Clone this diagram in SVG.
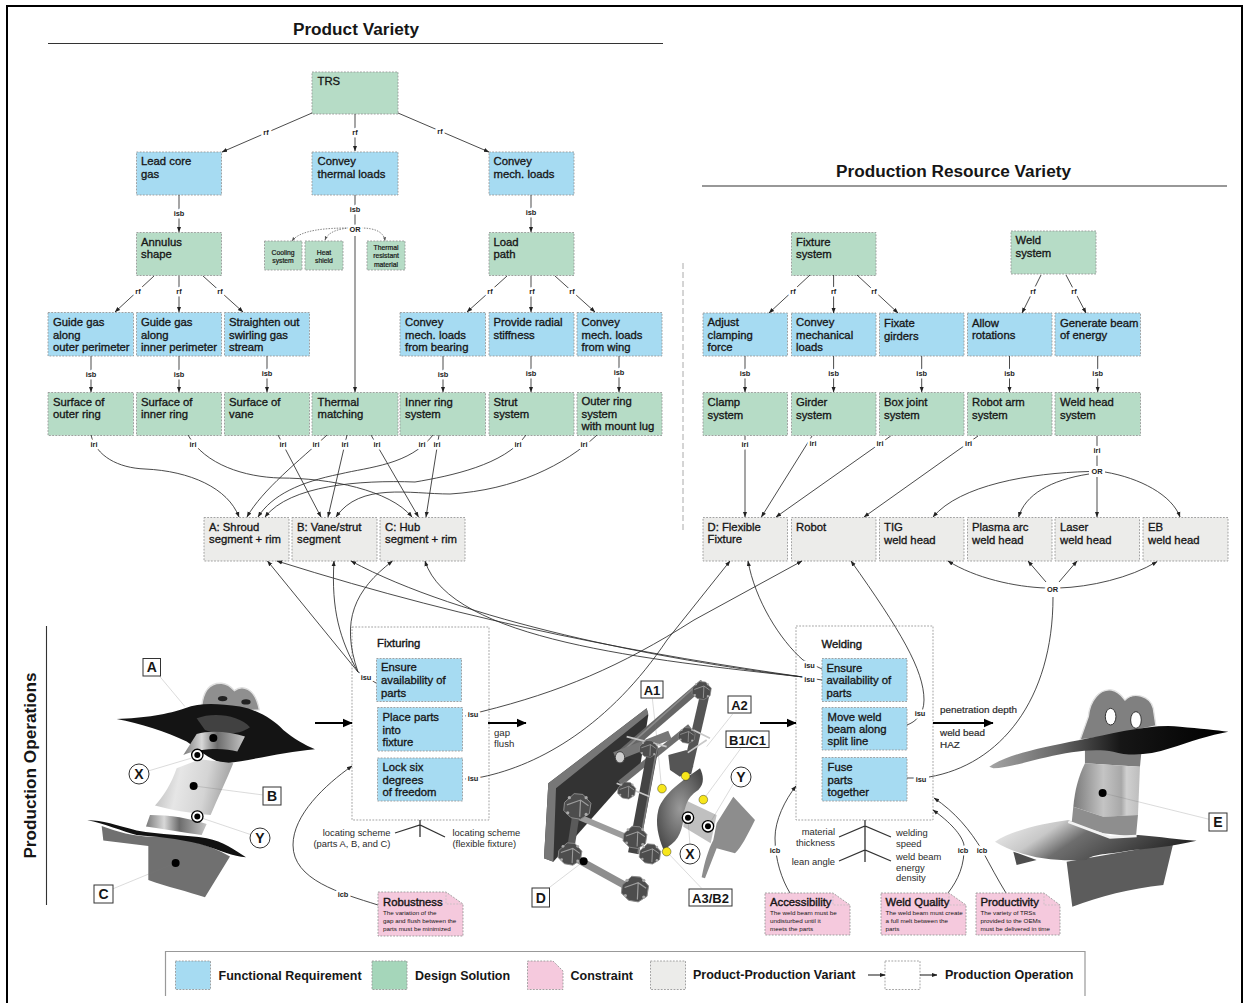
<svg xmlns="http://www.w3.org/2000/svg" width="1243" height="1003" viewBox="0 0 1243 1003">
<defs>
<marker id="ah" viewBox="0 0 8 8" refX="7.5" refY="4" markerWidth="5.5" markerHeight="5.5" markerUnits="userSpaceOnUse" orient="auto"><path d="M0 1 L8 4 L0 7 Z" fill="#222"/></marker>
<marker id="ahb" viewBox="0 0 8 8" refX="7.5" refY="4" markerWidth="10" markerHeight="10" markerUnits="userSpaceOnUse" orient="auto"><path d="M0 0.5 L8 4 L0 7.5 Z" fill="#000"/></marker>
<marker id="ahd" viewBox="0 0 8 8" refX="7.5" refY="4" markerWidth="4" markerHeight="4" markerUnits="userSpaceOnUse" orient="auto"><path d="M0 1 L8 4 L0 7 Z" fill="#555"/></marker>
<linearGradient id="gv" x1="0" y1="0" x2="1" y2="0.15"><stop offset="0" stop-color="#b5b5b5"/><stop offset=".35" stop-color="#e6e6e6"/><stop offset=".7" stop-color="#d4d4d4"/><stop offset="1" stop-color="#a2a2a2"/></linearGradient>
<linearGradient id="gs2" x1="0" y1="0" x2="1" y2="0"><stop offset="0" stop-color="#7a7a7a"/><stop offset=".3" stop-color="#d8d8d8"/><stop offset=".55" stop-color="#6c6c6c"/><stop offset="1" stop-color="#c6c6c6"/></linearGradient>
<linearGradient id="gw" x1="0" y1="0" x2="1" y2="0"><stop offset="0" stop-color="#7a7a7a"/><stop offset=".45" stop-color="#c4c4c4"/><stop offset=".72" stop-color="#a8a8a8"/><stop offset=".8" stop-color="#d0d0d0"/><stop offset="1" stop-color="#bdbdbd"/></linearGradient>
<linearGradient id="gh" x1="0" y1="0" x2="1" y2="0.3"><stop offset="0" stop-color="#f4f4f4"/><stop offset=".32" stop-color="#c8c8c8"/><stop offset=".5" stop-color="#6e6e6e"/><stop offset="1" stop-color="#2a2a2a"/></linearGradient>
<linearGradient id="gs" x1="0" y1="0" x2="1" y2="0"><stop offset="0" stop-color="#a5a5a5"/><stop offset=".28" stop-color="#6a6a6a"/><stop offset=".55" stop-color="#161616"/><stop offset="1" stop-color="#000"/></linearGradient>
<radialGradient id="ga" cx=".5" cy=".5" r=".6"><stop offset="0" stop-color="#9a9a9a"/><stop offset="1" stop-color="#4a4a4a"/></radialGradient>
<g id="knot"><path d="M-32 -8L-8 -30L14 -28L34 -6L30 20L8 34L-16 30L-34 12Z" fill="#4d4d4d" stroke="#8c8c8c" stroke-width="2.5"/><path d="M-26 -2L8 -14L28 0M8 -14L6 28" fill="none" stroke="#9d9d9d" stroke-width="3"/><circle cx="-20" cy="-20" r="4" fill="#aaa"/><circle cx="22" cy="-20" r="4" fill="#aaa"/><circle cx="-24" cy="18" r="4" fill="#aaa"/><circle cx="22" cy="22" r="4" fill="#aaa"/></g>
</defs>
<style>
text{font-family:"Liberation Sans",Arial,sans-serif;fill:#161616}
.b{stroke:#999;stroke-width:.9;stroke-dasharray:1.8 1.4}
.fr{fill:#a6dbf2}.ds{fill:#b6dcc6}.pv{fill:#ececea}.co{fill:#f5c9dd}.op{fill:#fff}
.t{font-size:11.3px;stroke:#161616;stroke-width:.32}
.s{font-size:6.8px;text-anchor:middle;stroke:#161616;stroke-width:.2}
.nt{font-size:11.3px;stroke:#161616;stroke-width:.4}
.nb{font-size:6.25px}
.l{font-size:7.4px;text-anchor:middle;font-weight:bold;fill:#222;paint-order:stroke;stroke:#fff;stroke-width:5px;stroke-linejoin:round}
.f{font-size:9.4px;fill:#2a2a2a}
.h1{font-size:17.2px;font-weight:bold}
.hd{font-size:11.3px;stroke:#161616;stroke-width:.4}
.lg{font-size:12.5px;font-weight:bold}
.c{fill:none;stroke:#2a2a2a;stroke-width:.85}
.ca{fill:none;stroke:#2a2a2a;stroke-width:.85;marker-end:url(#ah)}
.cd{fill:none;stroke:#666;stroke-width:.8;stroke-dasharray:1.5 1.2;marker-end:url(#ahd)}
.th{fill:none;stroke:#000;stroke-width:2;marker-end:url(#ahb)}
.fish{fill:none;stroke:#333;stroke-width:1.3}
.lead{fill:none;stroke:#777;stroke-width:.8}
.tag{fill:#fff;stroke:#333;stroke-width:1}
.tt{font-size:14px;font-weight:bold;text-anchor:middle}
.dot{fill:#000}
.y{fill:#f7e61c;stroke:#111;stroke-width:1.2}
</style>
<rect width="1243" height="1003" fill="#fff"/>
<path d="M7 1003 V6 H1242 V1003" fill="none" stroke="#000" stroke-width="2"/>

<g id="titles">
<text class="h1" x="356" y="35" text-anchor="middle">Product Variety</text>
<path d="M48 43.5H663M702 186H1227M46.5 626V905" stroke="#333" stroke-width="1.1" fill="none"/>
<text class="h1" x="953.5" y="177" text-anchor="middle">Production Resource Variety</text>
<text class="h1" transform="translate(36 765.5) rotate(-90)" text-anchor="middle">Production Operations</text>
<path d="M683 263V532" stroke="#aaa" stroke-width="1" stroke-dasharray="6 3" fill="none"/>
</g>

<g id="n-trs"><rect class="ds b" x="312" y="72" width="86" height="42"/><text class="t" x="317.5" y="85">TRS</text></g>
<g id="n-lead"><rect class="fr b" x="136.5" y="152" width="85" height="43"/><text class="t" x="141" y="165">Lead core</text><text class="t" x="141" y="177.5">gas</text></g>
<g id="n-thermal"><rect class="fr b" x="312" y="152" width="86" height="43"/><text class="t" x="317.5" y="165">Convey</text><text class="t" x="317.5" y="177.5">thermal loads</text></g>
<g id="n-mech"><rect class="fr b" x="489" y="152" width="85" height="43"/><text class="t" x="493.5" y="165">Convey</text><text class="t" x="493.5" y="177.5">mech. loads</text></g>
<g id="n-annulus"><rect class="ds b" x="136.5" y="232.5" width="85" height="43"/><text class="t" x="141" y="245.5">Annulus</text><text class="t" x="141" y="258">shape</text></g>
<g id="n-load"><rect class="ds b" x="489" y="232.5" width="85" height="43"/><text class="t" x="493.5" y="245.5">Load</text><text class="t" x="493.5" y="258">path</text></g>
<g id="n-cooling"><rect class="ds b" x="264.5" y="241" width="37.5" height="29"/><text class="s" x="283" y="254.5">Cooling</text><text class="s" x="283" y="262.5">system</text></g>
<g id="n-heat"><rect class="ds b" x="305" y="241" width="38" height="29"/><text class="s" x="324" y="254.5">Heat</text><text class="s" x="324" y="262.5">shield</text></g>
<g id="n-material"><rect class="ds b" x="367" y="241" width="38" height="29"/><text class="s" x="386" y="249.5">Thermal</text><text class="s" x="386" y="258">resistant</text><text class="s" x="386" y="266.5">material</text></g>

<g id="n-g1"><rect class="fr b" x="48" y="312.5" width="85.5" height="43.5"/><text class="t" x="53" y="326">Guide gas</text><text class="t" x="53" y="338.5">along</text><text class="t" x="53" y="351">outer perimeter</text></g>
<g id="n-g2"><rect class="fr b" x="136.5" y="312.5" width="85" height="43.5"/><text class="t" x="141" y="326">Guide gas</text><text class="t" x="141" y="338.5">along</text><text class="t" x="141" y="351">inner perimeter</text></g>
<g id="n-g3"><rect class="fr b" x="224.5" y="312.5" width="85" height="43.5"/><text class="t" x="229" y="326">Straighten out</text><text class="t" x="229" y="338.5">swirling gas</text><text class="t" x="229" y="351">stream</text></g>
<g id="n-m1"><rect class="fr b" x="400" y="312.5" width="85.5" height="43.5"/><text class="t" x="405" y="326">Convey</text><text class="t" x="405" y="338.5">mech. loads</text><text class="t" x="405" y="351">from bearing</text></g>
<g id="n-m2"><rect class="fr b" x="489" y="312.5" width="85" height="43.5"/><text class="t" x="493.5" y="326">Provide radial</text><text class="t" x="493.5" y="338.5">stiffness</text></g>
<g id="n-m3"><rect class="fr b" x="577" y="312.5" width="85" height="43.5"/><text class="t" x="581.5" y="326">Convey</text><text class="t" x="581.5" y="338.5">mech. loads</text><text class="t" x="581.5" y="351">from wing</text></g>

<g id="n-d1"><rect class="ds b" x="48" y="392.5" width="85.5" height="43"/><text class="t" x="53" y="406">Surface of</text><text class="t" x="53" y="418">outer ring</text></g>
<g id="n-d2"><rect class="ds b" x="136.5" y="392.5" width="85" height="43"/><text class="t" x="141" y="406">Surface of</text><text class="t" x="141" y="418">inner ring</text></g>
<g id="n-d3"><rect class="ds b" x="224.5" y="392.5" width="85" height="43"/><text class="t" x="229" y="406">Surface of</text><text class="t" x="229" y="418">vane</text></g>
<g id="n-d4"><rect class="ds b" x="312" y="392.5" width="86" height="43"/><text class="t" x="317.5" y="406">Thermal</text><text class="t" x="317.5" y="418">matching</text></g>
<g id="n-d5"><rect class="ds b" x="400" y="392.5" width="85.5" height="43"/><text class="t" x="405" y="406">Inner ring</text><text class="t" x="405" y="418">system</text></g>
<g id="n-d6"><rect class="ds b" x="489" y="392.5" width="85" height="43"/><text class="t" x="493.5" y="406">Strut</text><text class="t" x="493.5" y="418">system</text></g>
<g id="n-d7"><rect class="ds b" x="577" y="392.5" width="85" height="43"/><text class="t" x="581.5" y="405">Outer ring</text><text class="t" x="581.5" y="417.5">system</text><text class="t" x="581.5" y="430">with mount lug</text></g>

<g id="n-a"><rect class="pv b" x="204" y="517.5" width="85" height="43.5"/><text class="t" x="209" y="531">A: Shroud</text><text class="t" x="209" y="543">segment + rim</text></g>
<g id="n-b"><rect class="pv b" x="292" y="517.5" width="85" height="43.5"/><text class="t" x="297" y="531">B: Vane/strut</text><text class="t" x="297" y="543">segment</text></g>
<g id="n-c"><rect class="pv b" x="380" y="517.5" width="85" height="43.5"/><text class="t" x="385" y="531">C: Hub</text><text class="t" x="385" y="543">segment + rim</text></g>

<g id="n-fixture"><rect class="ds b" x="791.5" y="232.5" width="84.5" height="43"/><text class="t" x="796" y="245.5">Fixture</text><text class="t" x="796" y="258">system</text></g>
<g id="n-weld"><rect class="ds b" x="1011" y="231" width="85" height="43"/><text class="t" x="1015.5" y="244">Weld</text><text class="t" x="1015.5" y="256.5">system</text></g>
<g id="n-r1"><rect class="fr b" x="703" y="313" width="84.5" height="43"/><text class="t" x="707.5" y="326">Adjust</text><text class="t" x="707.5" y="338.5">clamping</text><text class="t" x="707.5" y="351">force</text></g>
<g id="n-r2"><rect class="fr b" x="791.5" y="313" width="84.5" height="43"/><text class="t" x="796" y="326">Convey</text><text class="t" x="796" y="338.5">mechanical</text><text class="t" x="796" y="351">loads</text></g>
<g id="n-r3"><rect class="fr b" x="879.5" y="313" width="84.5" height="43"/><text class="t" x="884" y="327">Fixate</text><text class="t" x="884" y="340">girders</text></g>
<g id="n-r4"><rect class="fr b" x="967.5" y="313" width="84.5" height="43"/><text class="t" x="972" y="327">Allow</text><text class="t" x="972" y="339">rotations</text></g>
<g id="n-r5"><rect class="fr b" x="1055" y="313" width="85.5" height="43"/><text class="t" x="1060" y="327">Generate beam</text><text class="t" x="1060" y="339">of energy</text></g>
<g id="n-s1"><rect class="ds b" x="703" y="392.5" width="84.5" height="43"/><text class="t" x="707.5" y="406">Clamp</text><text class="t" x="707.5" y="418.5">system</text></g>
<g id="n-s2"><rect class="ds b" x="791.5" y="392.5" width="84.5" height="43"/><text class="t" x="796" y="406">Girder</text><text class="t" x="796" y="418.5">system</text></g>
<g id="n-s3"><rect class="ds b" x="879.5" y="392.5" width="84.5" height="43"/><text class="t" x="884" y="406">Box joint</text><text class="t" x="884" y="418.5">system</text></g>
<g id="n-s4"><rect class="ds b" x="967.5" y="392.5" width="84.5" height="43"/><text class="t" x="972" y="406">Robot arm</text><text class="t" x="972" y="418.5">system</text></g>
<g id="n-s5"><rect class="ds b" x="1055" y="392.5" width="85.5" height="43"/><text class="t" x="1060" y="406">Weld head</text><text class="t" x="1060" y="418.5">system</text></g>
<g id="n-v1"><rect class="pv b" x="703" y="517.5" width="84.5" height="43.5"/><text class="t" x="707.5" y="531">D: Flexible</text><text class="t" x="707.5" y="543">Fixture</text></g>
<g id="n-v2"><rect class="pv b" x="791.5" y="517.5" width="84.5" height="43.5"/><text class="t" x="796" y="531">Robot</text></g>
<g id="n-v3"><rect class="pv b" x="879.5" y="517.5" width="84.5" height="43.5"/><text class="t" x="884" y="531">TIG</text><text class="t" x="884" y="543.5">weld head</text></g>
<g id="n-v4"><rect class="pv b" x="967.5" y="517.5" width="84.5" height="43.5"/><text class="t" x="972" y="531">Plasma arc</text><text class="t" x="972" y="543.5">weld head</text></g>
<g id="n-v5"><rect class="pv b" x="1055" y="517.5" width="84.5" height="43.5"/><text class="t" x="1060" y="531">Laser</text><text class="t" x="1060" y="543.5">weld head</text></g>
<g id="n-v6"><rect class="pv b" x="1143" y="517.5" width="85" height="43.5"/><text class="t" x="1148" y="531">EB</text><text class="t" x="1148" y="543.5">weld head</text></g>

<g id="n-fixturing"><rect class="op b" x="352" y="627" width="137" height="193"/><text class="hd" x="377" y="647">Fixturing</text>
<rect class="fr b" x="376.5" y="658.5" width="85" height="43"/><text class="t" x="381" y="671">Ensure</text><text class="t" x="381" y="684">availability of</text><text class="t" x="381" y="696.5">parts</text>
<rect class="fr b" x="377.5" y="707.5" width="85" height="43.5"/><text class="t" x="382.5" y="721">Place parts</text><text class="t" x="382.5" y="733.5">into</text><text class="t" x="382.5" y="746">fixture</text>
<rect class="fr b" x="377.5" y="758" width="85" height="43"/><text class="t" x="382.5" y="771">Lock six</text><text class="t" x="382.5" y="783.5">degrees</text><text class="t" x="382.5" y="796">of freedom</text></g>
<g id="n-welding"><rect class="op b" x="796" y="626" width="137" height="194"/><text class="hd" x="821.5" y="648">Welding</text>
<rect class="fr b" x="822" y="658.5" width="85" height="43"/><text class="t" x="826.5" y="672">Ensure</text><text class="t" x="826.5" y="684">availability of</text><text class="t" x="826.5" y="697">parts</text>
<rect class="fr b" x="822" y="707.5" width="85" height="42.5"/><text class="t" x="827.5" y="720.5">Move weld</text><text class="t" x="827.5" y="733">beam along</text><text class="t" x="827.5" y="745">split line</text>
<rect class="fr b" x="822" y="757.5" width="85" height="43.5"/><text class="t" x="827.5" y="771">Fuse</text><text class="t" x="827.5" y="783.5">parts</text><text class="t" x="827.5" y="796">together</text></g>

<g id="connectors">
<path class="ca" d="M312 113L222 152"/><path class="ca" d="M355 114V151"/><path class="ca" d="M398 113L489 152"/>
<path class="ca" d="M179 195V232"/><path class="c" d="M355 195V225"/><path class="ca" d="M531 195V232"/>
<path class="cd" d="M349 228C325 228 300 230 292 241"/><path class="cd" d="M349 228C338 229 328 232 325 240"/><path class="cd" d="M361 228C375 228 384 232 385 241"/>
<path class="ca" d="M355 236V392"/>
<path class="ca" d="M154 276L115 312"/><path class="ca" d="M179 276V312"/><path class="ca" d="M203 276L243 312"/>
<path class="ca" d="M507 276L467 312"/><path class="ca" d="M531 276V312"/><path class="ca" d="M555 276L595 312"/>
<path class="ca" d="M91 356V392"/><path class="ca" d="M179 356V392"/><path class="ca" d="M267 356V392"/><path class="ca" d="M443 356V392"/><path class="ca" d="M531 356V392"/><path class="ca" d="M619 356V392"/>

<path class="ca" d="M91 435C96 456 118 468 145 469C190 471 228 488 239 517"/>
<path class="ca" d="M188 435C205 465 245 477 280 478C330 478 390 490 412 517"/>
<path class="ca" d="M278 435L321 517"/>
<path class="ca" d="M327 435C300 460 262 490 247 517"/>
<path class="ca" d="M347 435L328 517"/>
<path class="ca" d="M371 435L418.5 517"/>
<path class="ca" d="M433 435C410 465 369 467 340 474C300 482 272 495 258 517"/>
<path class="ca" d="M439 435L426 517"/>
<path class="ca" d="M526 435C505 465 450 476 415 482C360 480 290 485 265 517"/>
<path class="ca" d="M597 435C565 465 515 490 450 494C410 494 360 482 336 517"/>

<path class="ca" d="M358 672L267.5 561"/>
<path class="ca" d="M358 672C340 640 331 610 334 561"/>
<path class="ca" d="M358 672C340 620 355 590 392.5 561"/>
<path class="ca" d="M803 677C650 655 480 625 277 561"/>
<path class="ca" d="M803 677C660 660 460 620 351 561"/>
<path class="ca" d="M803 677C650 660 450 640 425 561"/>
<path class="ca" d="M803 660C780 640 755 600 748 561"/>
<path class="ca" d="M465 716L482 711.5C560 692 620 667 694 620L802 561"/>
<path class="ca" d="M465 779L482 777C540 765 610 725 667 640L730 561"/>
<path class="ca" d="M907 725C915 722 924 715 924 700C924 670 900 630 851 561"/>
<path class="c" d="M907 778H916M929 777C1000 765 1053 700 1053 597"/>
<path class="ca" d="M1046 588C1015 587 975 578 948 561"/>
<path class="ca" d="M1046 582L1028 561"/><path class="ca" d="M1059 582L1077 561"/>
<path class="ca" d="M1059 588C1090 587 1130 578 1157 561.6"/>

<path class="ca" d="M810 275L769 313"/><path class="ca" d="M833.6 275V313"/><path class="ca" d="M857 275L898 313"/>
<path class="ca" d="M1041 275L1022 313"/><path class="ca" d="M1066 275L1086 313"/>
<path class="ca" d="M745 356V392"/><path class="ca" d="M833.6 356V392"/><path class="ca" d="M921.7 356V392"/><path class="ca" d="M1009.5 356V392"/><path class="ca" d="M1097.7 356V392"/>
<path class="ca" d="M745 436V517"/><path class="ca" d="M812 436L761.4 517"/><path class="ca" d="M890.7 436L776 517"/><path class="ca" d="M978 436L864 517"/>
<path class="c" d="M1097 436V466"/><path class="ca" d="M1097 477V517"/>
<path class="ca" d="M1089 471.5C1030 473 960 485 933 517"/>
<path class="ca" d="M1089 474C1050 480 1025 495 1018.6 517"/>
<path class="ca" d="M1105 472C1140 478 1172 495 1180 517"/>

<path class="ca" d="M378 905C340 893 293 880 293 845C293 815 325 785 352 766"/>
<path class="ca" d="M790 893C782 880 775 860 775 838C775 820 785 800 796 786"/>
<path class="ca" d="M948 893C958 880 965 865 964 845C962 835 950 822 933 810"/>
<path class="ca" d="M1006 893C998 880 990 865 982 850C970 830 955 812 934 798"/>
<path class="th" d="M315 723H352"/><path class="th" d="M488 723H526"/><path class="th" d="M760 723H796"/><path class="th" d="M933 723H993"/>
<path class="c" d="M803 660L822 669M803 677L822 680M358 672L376 683"/>
<g id="edge-labels">
<text class="l" x="266" y="135">rf</text><text class="l" x="355" y="135">rf</text><text class="l" x="440" y="134">rf</text>
<text class="l" x="179" y="216">isb</text><text class="l" x="355" y="212">isb</text><text class="l" x="531" y="215">isb</text>
<text class="l" x="355" y="232">OR</text>
<text class="l" x="138" y="294">rf</text><text class="l" x="179" y="294">rf</text><text class="l" x="220" y="294">rf</text>
<text class="l" x="490" y="294">rf</text><text class="l" x="532" y="294">rf</text><text class="l" x="572" y="294">rf</text>
<text class="l" x="91" y="377">isb</text><text class="l" x="179" y="377">isb</text><text class="l" x="267" y="376">isb</text><text class="l" x="443" y="377">isb</text><text class="l" x="531" y="376">isb</text><text class="l" x="619" y="375">isb</text>
<text class="l" x="94" y="447">iri</text><text class="l" x="193" y="447">iri</text><text class="l" x="283" y="447">iri</text><text class="l" x="316" y="447">iri</text><text class="l" x="345" y="447">iri</text><text class="l" x="377" y="447">iri</text><text class="l" x="422" y="447">iri</text><text class="l" x="437" y="447">iri</text><text class="l" x="518" y="447">iri</text><text class="l" x="584" y="447">iri</text>
<text class="l" x="793" y="294">rf</text><text class="l" x="833.6" y="294">rf</text><text class="l" x="874" y="294">rf</text><text class="l" x="1033" y="294">rf</text><text class="l" x="1074" y="294">rf</text>
<text class="l" x="745" y="376">isb</text><text class="l" x="833.6" y="376">isb</text><text class="l" x="921.7" y="376">isb</text><text class="l" x="1009.5" y="376">isb</text><text class="l" x="1097.7" y="376">isb</text>
<text class="l" x="745" y="447">iri</text><text class="l" x="813" y="446">iri</text><text class="l" x="880" y="446">iri</text><text class="l" x="968.6" y="446">iri</text><text class="l" x="1097" y="453">iri</text>
<text class="l" x="1097" y="473.5">OR</text><text class="l" x="1052.5" y="592">OR</text>
<text class="l" x="366" y="680">isu</text><text class="l" x="473" y="717">isu</text><text class="l" x="473" y="781">isu</text>
<text class="l" x="809.5" y="668">isu</text><text class="l" x="809.5" y="682">isu</text><text class="l" x="920" y="716">isu</text><text class="l" x="921" y="782">isu</text>
<text class="l" x="343" y="897">icb</text><text class="l" x="775" y="853">icb</text><text class="l" x="963" y="853">icb</text><text class="l" x="982" y="853">icb</text>
</g>
</g>

<g id="flow-notes">
<text class="f" style="font-size:9.6px" x="494" y="735.5">gap</text><text class="f" style="font-size:9.6px" x="494" y="746.5">flush</text>
<text class="f" style="font-size:9.9px;stroke:#2a2a2a;stroke-width:.2" x="940" y="713">penetration depth</text><text class="f" style="font-size:9.9px;stroke:#2a2a2a;stroke-width:.2" x="940" y="736">weld bead</text><text class="f" style="font-size:9.9px;stroke:#2a2a2a;stroke-width:.2" x="940" y="747.5">HAZ</text>
<path class="fish" d="M420 820V837M395 833L420 825L445 837"/>
<text class="f" x="390.5" y="836" text-anchor="end">locating scheme</text><text class="f" x="390.5" y="846.5" text-anchor="end">(parts A, B, and C)</text>
<text class="f" x="452.5" y="836">locating scheme</text><text class="f" x="452.5" y="846.5">(flexible fixture)</text>
<path class="fish" d="M865 820V862M839 837L865 826L891 837M839 861L865 850L891 861"/>
<text class="f" x="835" y="835" text-anchor="end">material</text><text class="f" x="835" y="846" text-anchor="end">thickness</text><text class="f" x="835" y="864.5" text-anchor="end">lean angle</text>
<text class="f" x="896" y="835.5">welding</text><text class="f" x="896" y="846.5">speed</text><text class="f" x="896" y="860">weld beam</text><text class="f" x="896" y="871">energy</text><text class="f" x="896" y="881">density</text>
</g>

<g id="n-robust"><path class="co b" d="M378 892H446L463 904V936H378Z"/><path d="M446 892V904H463" fill="none" stroke="#bbb" stroke-width=".7" stroke-dasharray="1.8 1.4"/><text class="nt" x="383" y="906">Robustness</text><text class="nb" x="383" y="914.5">The variation of the</text><text class="nb" x="383" y="923">gap and flush between the</text><text class="nb" x="383" y="930.5">parts must be minimized</text></g>
<g id="n-access"><path class="co b" d="M765 893H833L850 905V935H765Z"/><path d="M833 893V905H850" fill="none" stroke="#bbb" stroke-width=".7" stroke-dasharray="1.8 1.4"/><text class="nt" x="770" y="906">Accessibility</text><text class="nb" x="770" y="914.5">The weld beam must be</text><text class="nb" x="770" y="922.5">undisturbed until it</text><text class="nb" x="770" y="931">meets the parts</text></g>
<g id="n-quality"><path class="co b" d="M881 893H949L966 905V935H881Z"/><path d="M949 893V905H966" fill="none" stroke="#bbb" stroke-width=".7" stroke-dasharray="1.8 1.4"/><text class="nt" x="885.5" y="906">Weld Quality</text><text class="nb" x="885.5" y="914.5">The weld beam must create</text><text class="nb" x="885.5" y="922.5">a full melt between the</text><text class="nb" x="885.5" y="931">parts</text></g>
<g id="n-prod"><path class="co b" d="M976 893H1044L1060 905V935H976Z"/><path d="M1044 893V905H1060" fill="none" stroke="#bbb" stroke-width=".7" stroke-dasharray="1.8 1.4"/><text class="nt" x="980.5" y="906">Productivity</text><text class="nb" x="980.5" y="914.5">The variety of TRSs</text><text class="nb" x="980.5" y="922.5">provided to the OEMs</text><text class="nb" x="980.5" y="931">must be delivered in time</text></g>

<g id="render-left" transform="scale(.3333) translate(0 1920)">
<path d="M605 200C610 150 630 128 665 130C685 132 697 145 703 152C725 135 765 140 778 210L680 215Z" fill="#8f8f8f" stroke="#e0e0e0" stroke-width="4"/>
<ellipse cx="668" cy="176" rx="14" ry="8" fill="#222"/><ellipse cx="738" cy="186" rx="14" ry="8" fill="#222"/>
<path d="M350 237C430 235 510 222 555 205C600 188 650 190 720 200C780 212 820 240 850 270C880 295 915 315 945 328C860 335 760 360 680 370C640 368 610 340 560 305C500 275 420 250 350 237Z" fill="#141414"/>
<path d="M590 235C640 215 720 225 750 262C720 285 660 288 615 270Z" fill="#505050" opacity=".75"/>
<path d="M590 282C630 270 690 275 735 290L712 335C670 322 600 325 550 345Z" fill="url(#gs2)"/>
<path d="M530 385L600 358L700 370C680 420 655 470 632 525C570 520 510 510 465 497C490 470 515 430 530 385Z" fill="url(#gv)"/>
<path d="M450 525C510 525 570 535 620 552L605 585C550 578 490 568 438 560Z" fill="url(#gs2)"/>
<path d="M305 558L310 602L445 618L445 720C500 740 565 755 615 772L690 650C620 610 540 590 460 590C400 590 350 575 305 558Z" fill="#707070"/>
<path d="M262 541C300 540 350 555 410 572C480 585 560 585 620 595C670 605 705 630 738 652C700 650 660 630 600 612C530 595 470 590 410 585C370 575 310 550 262 541Z" fill="#111"/>
<path class="lead" stroke-width="2.4" d="M478 108L555 200M445 393L590 350M581 438L788 465M592 530L755 585M527 669L338 747"/>
<circle class="dot" cx="640" cy="294" r="12"/><circle class="dot" cx="581" cy="438" r="12"/><circle class="dot" cx="527" cy="669" r="12"/>
<circle cx="592" cy="345" r="17" fill="#fff" stroke="#000" stroke-width="4"/><circle class="dot" cx="592" cy="345" r="9"/>
<circle cx="592" cy="530" r="17" fill="#fff" stroke="#000" stroke-width="4"/><circle class="dot" cx="592" cy="530" r="9"/>
</g>

<g id="render-fixture" transform="translate(520 640) scale(.3333)">
<path d="M85 430L380 205L385 225L362 370L100 665L72 655Z" fill="#333"/>
<path d="M85 430L380 205L385 222L108 445L100 665L72 655Z" fill="#777"/>
<g fill="none" stroke-linecap="butt">
<path d="M140 640L340 750" stroke="#8e8e8e" stroke-width="22"/><path d="M150 520L340 600" stroke="#9c9c9c" stroke-width="18"/>
<path d="M170 510L150 640" stroke="#5a5a5a" stroke-width="22"/>
<path d="M560 140L500 400" stroke="#555" stroke-width="28"/>
<path d="M300 345L550 130" stroke="#666" stroke-width="26"/>
<path d="M296 345L545 122" stroke="#8a8a8a" stroke-width="5"/>
<path d="M300 430L510 260" stroke="#6e6e6e" stroke-width="18"/>
<path d="M285 350L450 285" stroke="#777" stroke-width="28"/>
<path d="M400 320L340 640" stroke="#444" stroke-width="32"/>
<path d="M412 320L354 640" stroke="#7a7a7a" stroke-width="5"/>
<path d="M320 290L440 320M290 430L390 470M520 270L570 295M500 340L560 300" stroke="#c8c8c8" stroke-width="5"/>
</g>
<ellipse cx="300" cy="352" rx="14" ry="17" fill="#cfcfcf" stroke="#444" stroke-width="3"/>
<path d="M445 345L500 330L520 380L480 410L450 390Z" fill="#555"/>
<use href="#knot" transform="translate(172 497) scale(1.2)"/><use href="#knot" transform="translate(345 590) scale(1.05)"/>
<use href="#knot" transform="translate(150 640) scale(1.05)"/><use href="#knot" transform="translate(345 745) scale(1.2)"/>
<use href="#knot" transform="translate(390 640) scale(.95)"/><use href="#knot" transform="translate(385 325) scale(.8)"/>
<use href="#knot" transform="translate(545 150) scale(.85)"/><use href="#knot" transform="translate(320 450) scale(.8)"/><use href="#knot" transform="translate(500 285) scale(.75)"/>
<path d="M640 470L705 540C680 590 665 620 645 640L590 625L555 715L545 712C555 660 565 630 580 600L590 550Z" fill="#8d8d8d"/>
<path d="M495 480L590 525L572 610L490 560Z" fill="#c0c0c0"/>
<path d="M415 510C430 460 490 420 540 385C550 405 555 430 535 450C505 470 495 490 490 540C485 580 470 610 430 628C415 590 405 550 415 510Z" fill="url(#ga)"/>
<path class="lead" stroke-width="2.4" d="M397 175L410 290L425 446M191 664L85 745M638 222L560 320M665 322L550 479M640 432L564 559M504 533L510 615M440 635L545 745"/>
<circle class="dot" cx="191" cy="664" r="12"/>
<circle class="y" cx="426" cy="446" r="13" stroke-width="3"/><circle class="y" cx="497" cy="408" r="13" stroke-width="3"/><circle class="y" cx="550" cy="479" r="13" stroke-width="3"/><circle class="y" cx="440" cy="635" r="13" stroke-width="3"/>
<circle cx="504" cy="533" r="17" fill="#fff" stroke="#000" stroke-width="4"/><circle class="dot" cx="504" cy="533" r="9"/>
<circle cx="564" cy="559" r="17" fill="#fff" stroke="#000" stroke-width="4"/><circle class="dot" cx="564" cy="559" r="9"/>
</g>

<g id="render-right" transform="translate(760 620) scale(.3333)">
<path d="M760 695L830 720L770 735Z" fill="#4e4e4e"/>
<path d="M920 725L1240 670L1210 795C1110 805 1020 830 937 860Z" fill="#5c5c5c"/>
<path d="M705 665C760 630 850 610 925 600L1050 650L1135 645C1200 650 1260 660 1310 662C1230 680 1170 685 1120 690C1040 705 1000 700 980 720C880 725 790 715 705 665Z" fill="url(#gh)"/>
<path d="M975 390L1145 390L1140 440L975 430Z" fill="#7d7d7d"/>
<path d="M975 430L1140 440L1134 585L1030 590L940 560C945 510 955 470 975 430Z" fill="url(#gw)"/>
<path d="M940 560L1030 590L1134 585L1128 650L1030 640L935 610Z" fill="#8e8e8e"/>
<path d="M925 605L1050 652L1130 648" fill="none" stroke="#f2f2f2" stroke-width="8"/>
<path d="M960 360L985 290C990 240 1020 205 1055 210C1080 215 1090 235 1095 240C1120 215 1170 225 1180 265L1188 318L1040 350Z" fill="#808080" stroke="#e2e2e2" stroke-width="4"/>
<ellipse cx="1052" cy="290" rx="16" ry="25" fill="#fff" stroke="#333" stroke-width="3"/><ellipse cx="1128" cy="300" rx="16" ry="25" fill="#fff" stroke="#333" stroke-width="3"/>
<path d="M688 440C740 405 830 385 960 360C1060 340 1180 310 1260 320C1320 325 1370 330 1405 335C1350 345 1290 365 1230 385C1170 405 1110 410 1060 395C1000 385 930 395 860 412C800 425 740 445 700 445Z" fill="url(#gs)"/>
<path class="lead" stroke-width="2.4" d="M1028 519L1348 598"/>
<circle class="dot" cx="1028" cy="519" r="12"/>
</g>

<g id="callouts">
<rect class="tag" x="143" y="658.5" width="17.5" height="17.5"/><text class="tt" x="151.7" y="672">A</text>
<rect class="tag" x="263" y="787" width="18" height="18"/><text class="tt" x="272" y="801">B</text>
<rect class="tag" x="94" y="885" width="19" height="18"/><text class="tt" x="103.5" y="899">C</text>
<circle class="tag" cx="139" cy="774" r="10"/><text class="tt" x="139" y="779">X</text>
<circle class="tag" cx="260" cy="838" r="10"/><text class="tt" x="260" y="843">Y</text>
<rect class="tag" x="641" y="681" width="22" height="17"/><text class="tt" x="652" y="695" style="font-size:13px">A1</text>
<rect class="tag" x="728" y="696" width="23" height="17"/><text class="tt" x="739.5" y="710" style="font-size:13px">A2</text>
<rect class="tag" x="726" y="731" width="43" height="16.5"/><text class="tt" x="747.5" y="744.5" style="font-size:13px">B1/C1</text>
<circle class="tag" cx="741" cy="777" r="10"/><text class="tt" x="741" y="782">Y</text>
<circle class="tag" cx="690" cy="854" r="10"/><text class="tt" x="690" y="859">X</text>
<rect class="tag" x="689" y="889" width="43" height="17"/><text class="tt" x="710.5" y="902.5" style="font-size:13px">A3/B2</text>
<rect class="tag" x="532" y="888" width="17.5" height="19"/><text class="tt" x="540.7" y="902.5">D</text>
<rect class="tag" x="1209" y="813" width="18" height="18"/><text class="tt" x="1218" y="827">E</text>
</g>

<g id="legend">
<path d="M165.5 996V951.5H1085V996" fill="none" stroke="#999" stroke-width="1.2"/>
<rect class="fr b" x="175.5" y="961" width="35" height="28.5"/><text class="lg" x="218.5" y="980">Functional Requirement</text>
<rect x="372" y="961" width="35" height="28.5" fill="#a5d6ba" class="b"/><text class="lg" x="415" y="979.5">Design Solution</text>
<path class="co b" d="M527.5 961H553L563 971V989.5H527.5Z"/><text class="lg" x="570.5" y="979.5">Constraint</text>
<rect class="pv b" x="650.5" y="961" width="35" height="28.5"/><text class="lg" x="693" y="979">Product-Production Variant</text>
<rect class="op b" x="885" y="961" width="35" height="28.5"/>
<path class="ca" d="M868 975H885" style="stroke-width:1.1"/><path class="ca" d="M920 975H937" style="stroke-width:1.1"/>
<text class="lg" x="945" y="979">Production Operation</text>
</g>
</svg>
